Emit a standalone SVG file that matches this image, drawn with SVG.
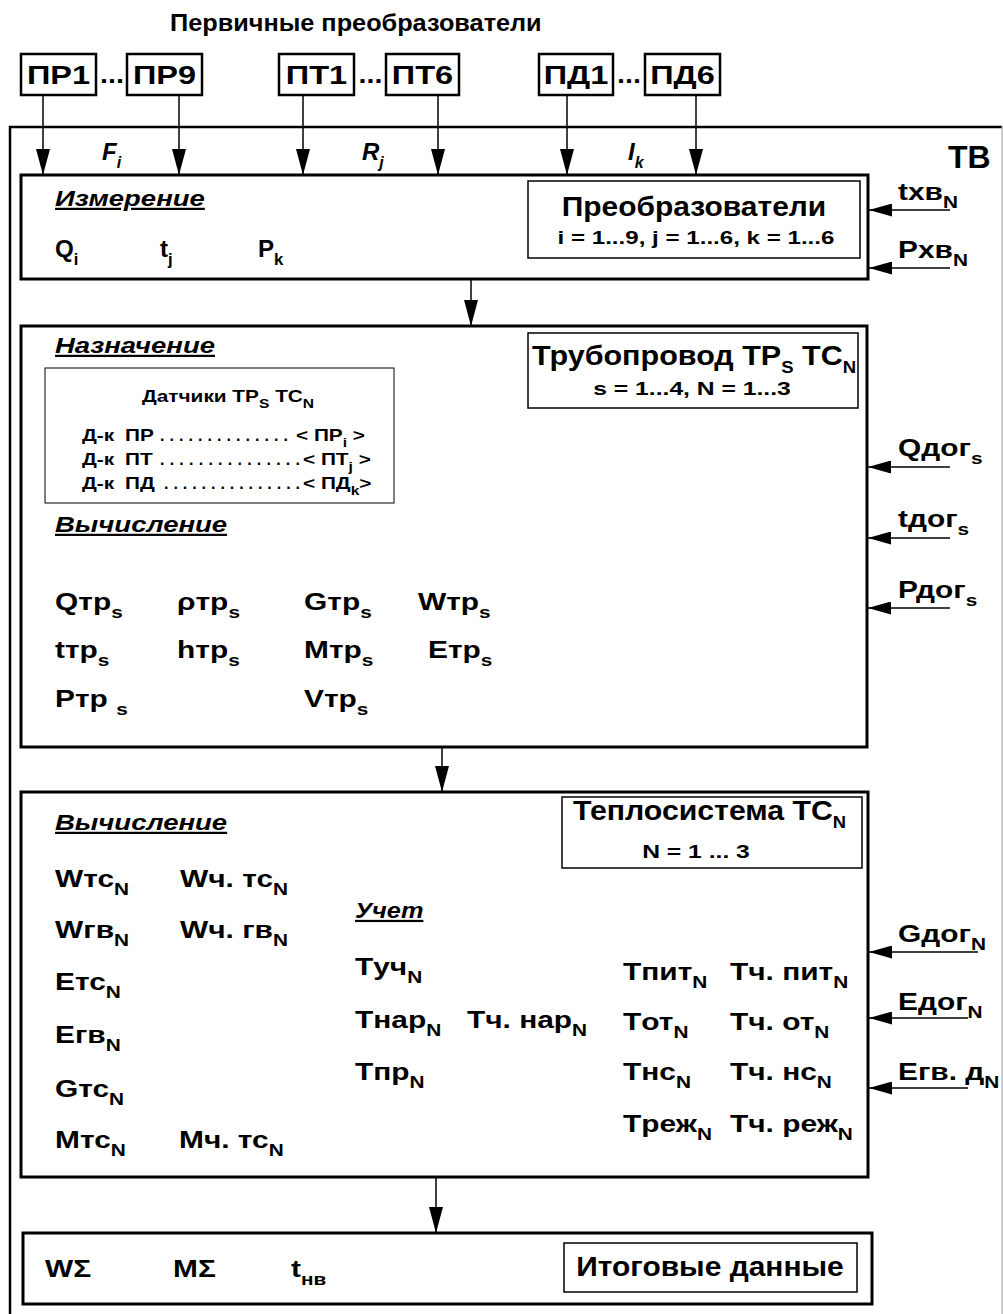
<svg xmlns="http://www.w3.org/2000/svg" width="1003" height="1314" viewBox="0 0 1003 1314">
<defs>
<marker id="ah" viewBox="0 0 26 14" markerWidth="26" markerHeight="14" refX="26" refY="7" orient="auto" markerUnits="userSpaceOnUse"><path d="M0,0 L26,7 L0,14 z" fill="#000"/></marker>
<marker id="ahs" viewBox="0 0 23 13" markerWidth="23" markerHeight="13" refX="23" refY="6.5" orient="auto" markerUnits="userSpaceOnUse"><path d="M0,0 L23,6.5 L0,13 z" fill="#000"/></marker>
</defs>
<style>
text{font-family:"Liberation Sans",Arial,sans-serif;font-weight:bold;fill:#000}
.blk{fill:#fff;stroke:#000;stroke-width:3}
.sm{fill:none;stroke:#000;stroke-width:2.5}
.thin{fill:none;stroke:#000;stroke-width:1.5}
.tn{fill:none;stroke:#000;stroke-width:1}
.c{stroke:#000;stroke-width:1.5;fill:none}
.t{font-size:28px}
.v{font-size:23px}
.h{font-size:22px;font-style:italic;text-decoration:underline}
.sb{font-size:16px}
.d{font-size:16px}
.ds{font-size:12px}
.r{font-size:19px}
.b{font-size:25px}
</style>
<rect x="0" y="0" width="1003" height="1314" fill="#fff"/>
<text transform="matrix(1.1,0,0,1,170,31)" font-size="23">Первичные преобразователи</text>

<g id="outer"><path class="sm" d="M10,1320 V127 H1002"/><line x1="1002" y1="126" x2="1002" y2="1320" stroke="#999" stroke-width="1"/>
<text x="948" y="168" font-size="32">ТВ</text></g>

<g id="sensors">
<g id="pr1"><rect class="sm" x="21" y="54" width="75" height="41"/><text class="b" transform="matrix(1.3,0,0,1,58.5,84)" text-anchor="middle">ПР1</text></g>
<text class="b" transform="matrix(1.15,0,0,1,112,83)" text-anchor="middle">...</text>
<g id="pr9"><rect class="sm" x="127" y="54" width="75" height="41"/><text class="b" transform="matrix(1.3,0,0,1,164.5,84)" text-anchor="middle">ПР9</text></g>
<g id="pt1"><rect class="sm" x="279" y="54" width="75" height="41"/><text class="b" transform="matrix(1.3,0,0,1,316.5,84)" text-anchor="middle">ПТ1</text></g>
<text class="b" transform="matrix(1.15,0,0,1,370.5,83)" text-anchor="middle">...</text>
<g id="pt6"><rect class="sm" x="386" y="54" width="73" height="41"/><text class="b" transform="matrix(1.3,0,0,1,422.5,84)" text-anchor="middle">ПТ6</text></g>
<g id="pd1"><rect class="sm" x="539" y="54" width="74" height="41"/><text class="b" transform="matrix(1.3,0,0,1,576,84)" text-anchor="middle">ПД1</text></g>
<text class="b" transform="matrix(1.15,0,0,1,629,83)" text-anchor="middle">...</text>
<g id="pd6"><rect class="sm" x="645" y="54" width="75" height="41"/><text class="b" transform="matrix(1.3,0,0,1,682.5,84)" text-anchor="middle">ПД6</text></g>
</g>

<g id="connectors">
<line class="c" x1="43" y1="95" x2="43" y2="175" marker-end="url(#ah)"/>
<line class="c" x1="179" y1="95" x2="179" y2="175" marker-end="url(#ah)"/>
<line class="c" x1="303" y1="95" x2="303" y2="175" marker-end="url(#ah)"/>
<line class="c" x1="438" y1="95" x2="438" y2="175" marker-end="url(#ah)"/>
<line class="c" x1="567" y1="95" x2="567" y2="175" marker-end="url(#ah)"/>
<line class="c" x1="696" y1="95" x2="696" y2="175" marker-end="url(#ah)"/>
<line class="c" x1="471" y1="279" x2="471" y2="326" marker-end="url(#ah)"/>
<line class="c" x1="442" y1="747" x2="442" y2="792" marker-end="url(#ah)"/>
<line class="c" x1="436" y1="1177" x2="436" y2="1233" marker-end="url(#ah)"/>
<line class="c" x1="950" y1="210" x2="869" y2="210" marker-end="url(#ahs)"/>
<line class="c" x1="950" y1="268" x2="869" y2="268" marker-end="url(#ahs)"/>
<line class="c" x1="950" y1="467" x2="868" y2="467" marker-end="url(#ahs)"/>
<line class="c" x1="950" y1="538" x2="868" y2="538" marker-end="url(#ahs)"/>
<line class="c" x1="950" y1="608" x2="868" y2="608" marker-end="url(#ahs)"/>
<line class="c" x1="978" y1="952" x2="869" y2="952" marker-end="url(#ahs)"/>
<line class="c" x1="968" y1="1018" x2="869" y2="1018" marker-end="url(#ahs)"/>
<line class="c" x1="968" y1="1088" x2="869" y2="1088" marker-end="url(#ahs)"/>
</g>

<g id="signals">
<text x="102" y="160" font-size="24" font-style="italic">F<tspan class="sb" dy="8">i</tspan></text>
<text x="362" y="160" font-size="24" font-style="italic">R<tspan class="sb" dy="8">j</tspan></text>
<text x="628" y="160" font-size="24" font-style="italic">I<tspan class="sb" dy="8">k</tspan></text>
<text class="v" transform="matrix(1.3,0,0,1,898,200)">tхв<tspan class="sb" dy="8">N</tspan></text>
<text class="v" transform="matrix(1.3,0,0,1,898,258)">Рхв<tspan class="sb" dy="8">N</tspan></text>
<text class="v" transform="matrix(1.3,0,0,1,898,456)">Qдог<tspan class="sb" dy="8">s</tspan></text>
<text class="v" transform="matrix(1.3,0,0,1,898,527)">tдог<tspan class="sb" dy="8">s</tspan></text>
<text class="v" transform="matrix(1.3,0,0,1,898,598)">Рдог<tspan class="sb" dy="8">s</tspan></text>
<text class="v" transform="matrix(1.3,0,0,1,898,942)">Gдог<tspan class="sb" dy="8">N</tspan></text>
<text class="v" transform="matrix(1.3,0,0,1,898,1010)">Eдог<tspan class="sb" dy="8">N</tspan></text>
<text class="v" transform="matrix(1.3,0,0,1,898,1080)">Eгв. д<tspan class="sb" dy="8">N</tspan></text>
</g>

<g id="measure">
<rect class="blk" x="21" y="175" width="847" height="104"/>
<text class="h" transform="matrix(1.25,0,0,1,55,206)">Измерение</text>
<text class="v" transform="matrix(1.05,0,0,1,55,257)">Q<tspan class="sb" dy="8">i</tspan></text>
<text class="v" transform="matrix(1.05,0,0,1,160,257)">t<tspan class="sb" dy="8">j</tspan></text>
<text class="v" transform="matrix(1.05,0,0,1,258,257)">P<tspan class="sb" dy="8">k</tspan></text>
<rect class="thin" x="528" y="181" width="332" height="77"/>
<text class="t" transform="matrix(1.07,0,0,1,694,216)" text-anchor="middle">Преобразователи</text>
<text class="r" transform="matrix(1.27,0,0,1,696,244)" text-anchor="middle">i = 1...9, j = 1...6, k = 1...6</text>
</g>

<g id="pipeline">
<rect class="blk" x="21" y="326" width="846" height="421"/>
<text class="h" transform="matrix(1.25,0,0,1,55,353)">Назначение</text>
<rect class="thin" x="528" y="333" width="330" height="75"/>
<text class="t" transform="matrix(1.09,0,0,1,532,365)">Трубопровод ТР<tspan font-size="17" dy="8">S</tspan><tspan dy="-8"> ТС</tspan><tspan font-size="17" dy="8">N</tspan></text>
<text class="r" transform="matrix(1.3,0,0,1,692,395)" text-anchor="middle">s = 1...4, N = 1...3</text>
<rect class="tn" x="45" y="368" width="349" height="135"/>
<text class="d" transform="matrix(1.3,0,0,1,142,402)">Датчики ТР<tspan class="ds" dy="6">S</tspan><tspan dy="-6">  ТС</tspan><tspan class="ds" dy="6">N</tspan></text>
<text class="d" transform="matrix(1.3,0,0,1,82,441)">Д-к</text><text class="d" transform="matrix(1.3,0,0,1,125,441)">ПР</text>
<text class="d" x="160" y="441" textLength="128" lengthAdjust="spacing">. . . . . . . . . . . . . .</text>
<text class="d" transform="matrix(1.3,0,0,1,296,441)">&lt; ПР<tspan class="ds" dy="6">i</tspan><tspan dy="-6"> &gt;</tspan></text>
<text class="d" transform="matrix(1.3,0,0,1,82,465)">Д-к</text><text class="d" transform="matrix(1.3,0,0,1,125,465)">ПТ</text>
<text class="d" x="160" y="465" textLength="140" lengthAdjust="spacing">. . . . . . . . . . . . . . .</text>
<text class="d" transform="matrix(1.3,0,0,1,303,465)">&lt; ПТ<tspan class="ds" dy="6">j</tspan><tspan dy="-6"> &gt;</tspan></text>
<text class="d" transform="matrix(1.3,0,0,1,82,489)">Д-к</text><text class="d" transform="matrix(1.3,0,0,1,125,489)">ПД</text>
<text class="d" x="164" y="489" textLength="136" lengthAdjust="spacing">. . . . . . . . . . . . . . .</text>
<text class="d" transform="matrix(1.3,0,0,1,303,489)">&lt; ПД<tspan class="ds" dy="6">k</tspan><tspan dy="-6">&gt;</tspan></text>
<text class="h" transform="matrix(1.25,0,0,1,55,532)">Вычисление</text>
<text class="v" transform="matrix(1.3,0,0,1,55,610)">Qтр<tspan class="sb" dy="8">s</tspan></text>
<text class="v" transform="matrix(1.3,0,0,1,177,610)">ρтр<tspan class="sb" dy="8">s</tspan></text>
<text class="v" transform="matrix(1.3,0,0,1,304,610)">Gтр<tspan class="sb" dy="8">s</tspan></text>
<text class="v" transform="matrix(1.3,0,0,1,418,610)">Wтр<tspan class="sb" dy="8">s</tspan></text>
<text class="v" transform="matrix(1.3,0,0,1,55,658)">tтр<tspan class="sb" dy="8">s</tspan></text>
<text class="v" transform="matrix(1.3,0,0,1,177,658)">hтр<tspan class="sb" dy="8">s</tspan></text>
<text class="v" transform="matrix(1.3,0,0,1,304,658)">Mтр<tspan class="sb" dy="8">s</tspan></text>
<text class="v" transform="matrix(1.3,0,0,1,428,658)">Eтр<tspan class="sb" dy="8">s</tspan></text>
<text class="v" transform="matrix(1.3,0,0,1,55,707)">Ртр <tspan class="sb" dy="8">s</tspan></text>
<text class="v" transform="matrix(1.3,0,0,1,304,707)">Vтр<tspan class="sb" dy="8">s</tspan></text>
</g>

<g id="heatsys">
<rect class="blk" x="21" y="792" width="847" height="385"/>
<rect class="thin" x="562" y="797" width="300" height="71"/>
<text class="t" font-size="25" transform="matrix(1.08,0,0,1,573,820)">Теплосистема ТС<tspan font-size="17" dy="8">N</tspan></text>
<text class="r" transform="matrix(1.3,0,0,1,696,858)" text-anchor="middle">N = 1 ... 3</text>
<text class="h" transform="matrix(1.25,0,0,1,55,830)">Вычисление</text>
<text class="v" transform="matrix(1.3,0,0,1,55,887)">Wтс<tspan class="sb" dy="8">N</tspan></text>
<text class="v" transform="matrix(1.3,0,0,1,180,887)">Wч. тс<tspan class="sb" dy="8">N</tspan></text>
<text class="v" transform="matrix(1.3,0,0,1,55,938)">Wгв<tspan class="sb" dy="8">N</tspan></text>
<text class="v" transform="matrix(1.3,0,0,1,180,938)">Wч. гв<tspan class="sb" dy="8">N</tspan></text>
<text class="v" transform="matrix(1.3,0,0,1,55,990)">Eтс<tspan class="sb" dy="8">N</tspan></text>
<text class="v" transform="matrix(1.3,0,0,1,55,1043)">Eгв<tspan class="sb" dy="8">N</tspan></text>
<text class="v" transform="matrix(1.3,0,0,1,55,1097)">Gтс<tspan class="sb" dy="8">N</tspan></text>
<text class="v" transform="matrix(1.3,0,0,1,55,1148)">Mтс<tspan class="sb" dy="8">N</tspan></text>
<text class="v" transform="matrix(1.3,0,0,1,179,1148)">Mч. тс<tspan class="sb" dy="8">N</tspan></text>
<text class="h" transform="matrix(1.15,0,0,1,355,918)">Учет</text>
<text class="v" transform="matrix(1.3,0,0,1,355,975)">Tуч<tspan class="sb" dy="8">N</tspan></text>
<text class="v" transform="matrix(1.3,0,0,1,355,1028)">Tнар<tspan class="sb" dy="8">N</tspan></text>
<text class="v" transform="matrix(1.3,0,0,1,467,1028)">Tч. нар<tspan class="sb" dy="8">N</tspan></text>
<text class="v" transform="matrix(1.3,0,0,1,355,1080)">Tпр<tspan class="sb" dy="8">N</tspan></text>
<text class="v" transform="matrix(1.3,0,0,1,623,980)">Tпит<tspan class="sb" dy="8">N</tspan></text>
<text class="v" transform="matrix(1.3,0,0,1,730,980)">Tч. пит<tspan class="sb" dy="8">N</tspan></text>
<text class="v" transform="matrix(1.3,0,0,1,623,1030)">Tот<tspan class="sb" dy="8">N</tspan></text>
<text class="v" transform="matrix(1.3,0,0,1,730,1030)">Tч. от<tspan class="sb" dy="8">N</tspan></text>
<text class="v" transform="matrix(1.3,0,0,1,623,1080)">Tнс<tspan class="sb" dy="8">N</tspan></text>
<text class="v" transform="matrix(1.3,0,0,1,730,1080)">Tч. нс<tspan class="sb" dy="8">N</tspan></text>
<text class="v" transform="matrix(1.3,0,0,1,623,1132)">Tреж<tspan class="sb" dy="8">N</tspan></text>
<text class="v" transform="matrix(1.3,0,0,1,730,1132)">Tч. реж<tspan class="sb" dy="8">N</tspan></text>
</g>

<g id="totals">
<rect class="blk" x="23" y="1233" width="849" height="71"/>
<rect class="thin" x="564" y="1243" width="293" height="49"/>
<text class="t" transform="matrix(1.07,0,0,1,710,1276)" text-anchor="middle">Итоговые данные</text>
<text class="v" transform="matrix(1.3,0,0,1,45,1277)">WΣ</text>
<text class="v" transform="matrix(1.3,0,0,1,173,1277)">MΣ</text>
<text class="v" transform="matrix(1.3,0,0,1,291,1277)">t<tspan class="sb" dy="8">нв</tspan></text>
</g>
</svg>
